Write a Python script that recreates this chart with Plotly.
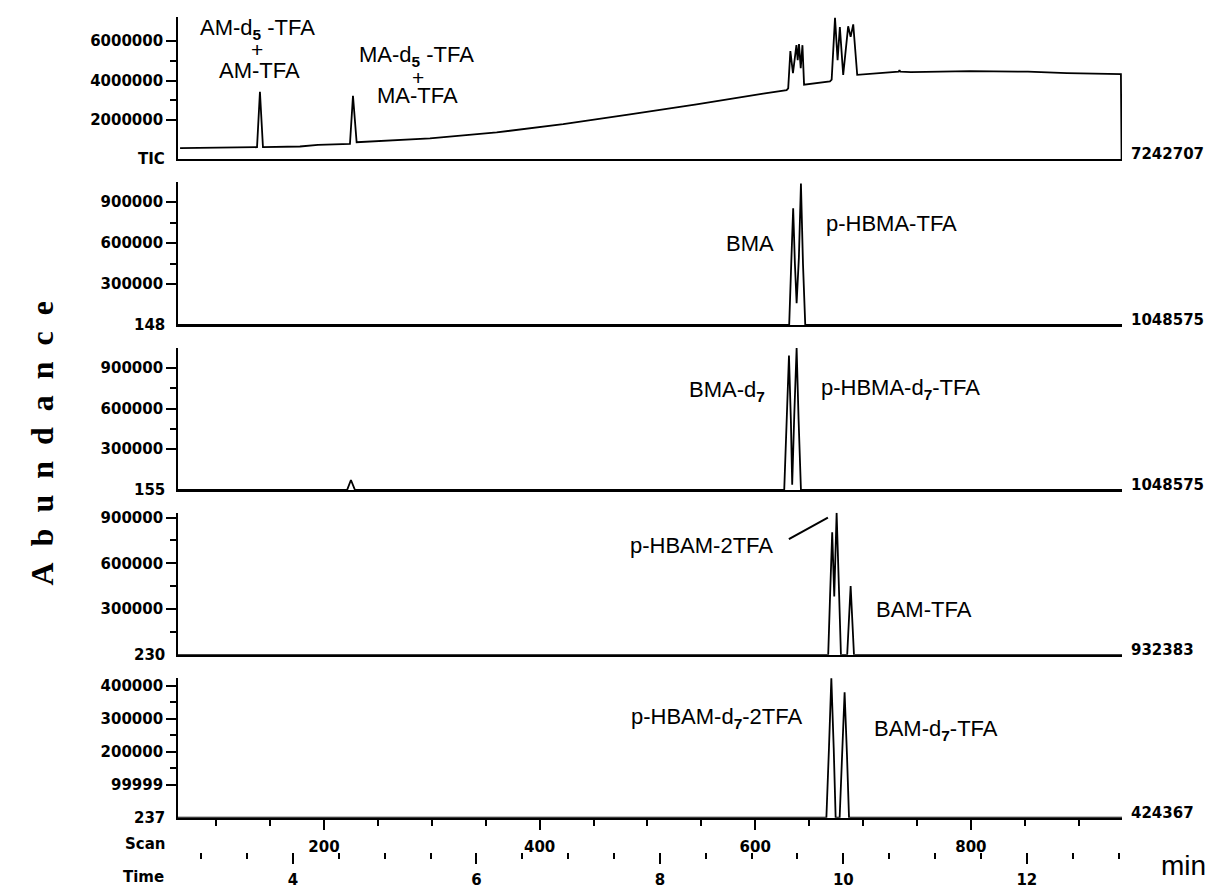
import plotly.graph_objects as go

# ---------------- data (scan number, abundance) ----------------
tic_scan = [66.5, 137.9, 140.6, 143.4, 177.7, 194.4, 224.1, 226.9, 230.3, 298.3, 360.2, 421.9,
            483.8, 545.6, 607.4, 629.1, 630.6, 632.6, 635.0, 638.2, 639.4, 640.6, 642.2, 643.8,
            645.3, 669.3, 670.9, 674.0, 676.4, 678.5, 681.6, 686.2, 688.5, 690.9, 694.6, 706.4,
            724.9, 733.0, 733.8, 734.6, 744.4, 799.1, 852.9, 889.1, 939.2, 939.8]
tic_abund = [553000, 604000, 3420000, 604000, 640000, 719000, 770000, 3220000, 855000, 1056000,
             1358000, 1776000, 2278000, 2781000, 3335000, 3506000, 3600000, 5500000, 4380000,
             5800000, 5040000, 5850000, 4630000, 5800000, 3790000, 3960000, 4050000, 7190000,
             5040000, 6720000, 4290000, 6760000, 6220000, 6860000, 4290000, 4340000, 4410000,
             4450000, 4530000, 4450000, 4430000, 4480000, 4450000, 4380000, 4330000, 0]

ion148_scan = [64.6, 631.5, 633.4, 635.2, 636.8, 638.4, 640.5, 642.4, 644.3, 646.4, 940.2]
ion148_abund = [148, 148, 448000, 855000, 448000, 159000, 494000, 1036000, 448000, 148, 148]

ion155_scan = [64.6, 221.5, 225.0, 228.7, 626.9, 629.1, 631.3, 633.1, 634.3, 636.2, 638.4, 640.2,
               642.4, 940.2]
ion155_abund = [155, 155, 73000, 155, 155, 502000, 990000, 502000, 39000, 548000, 1046000,
                524000, 155, 155]

ion230_scan = [64.6, 667.7, 669.5, 671.4, 673.3, 675.5, 677.6, 679.5, 685.3, 686.9, 688.5, 690.0,
               691.6, 940.2]
ion230_abund = [230, 230, 403000, 803000, 382000, 932000, 447000, 230, 230, 233000, 451000,
                233000, 230, 230]

ion237_scan = [64.6, 666.0, 668.4, 670.6, 672.8, 674.6, 678.3, 680.8, 682.9, 685.1, 687.0, 940.2]
ion237_abund = [237, 237, 211000, 422000, 211000, 237, 237, 191000, 380000, 191000, 237, 237]

# full-scale values (right-hand labels) and baseline labels
full_scale = [7242707, 1048575, 1048575, 932383, 424367]
baseline_labels = ["TIC", "148", "155", "230", "237"]

# y tick values / labels
y_major = [[2000000, 4000000, 6000000],
           [300000, 600000, 900000],
           [300000, 600000, 900000],
           [300000, 600000, 900000],
           [99999, 200000, 300000, 400000]]
y_minor = [[3000000, 5000000],
           [450000, 750000],
           [450000, 750000],
           [150000, 450000, 750000],
           [150000, 250000, 350000]]

# x axis (scan / time)
scan_range = [64.6, 940.2]
scan_major = [200, 400, 600, 800]
scan_minor = [100, 150, 250, 300, 350, 450, 500, 550, 650, 700, 750, 850, 900]
SCANS_PER_MIN = 85.09
SCAN_AT_4MIN = 171.2
time_major = [4, 6, 8, 10, 12]
time_minor = [3.0, 3.5, 4.5, 5.0, 5.5, 6.5, 7.0, 7.5, 8.5, 9.0, 9.5, 10.5, 11.0, 11.5, 12.5, 13.0]

# peak labels: (panel, scan, abundance, text, font size)
peak_labels = [
    (1, 137.9, 6640000, "AM-d<sub><b>5</b></sub> -TFA", 22),
    (1, 137.9, 5560000, "+", 21),
    (1, 140.6, 4530000, "AM-TFA", 22),
    (1, 286.2, 5230000, "MA-d<sub><b>5</b></sub> -TFA", 22),
    (1, 287.2, 4150000, "+", 21),
    (1, 287.2, 3220000, "MA-TFA", 22),
    (2, 595.1, 600000, "BMA", 22),
    (2, 726.8, 745000, "p-HBMA-TFA", 22),
    (3, 573.7, 728000, "BMA-d<sub><b>7</b></sub>", 22),
    (3, 735.1, 743000, "p-HBMA-d<sub><b>7</b></sub>-TFA", 22),
    (4, 550.6, 719000, "p-HBAM-2TFA", 22),
    (4, 756.4, 298000, "BAM-TFA", 22),
    (5, 564.5, 302000, "p-HBAM-d<sub><b>7</b></sub>-2TFA", 22),
    (5, 767.6, 266000, "BAM-d<sub><b>7</b></sub>-TFA", 22),
]
pointer_scan = [631.2, 667.4]
pointer_abund = [758000, 900000]

# ---------------- layout geometry ----------------
W, H = 1210, 889
def py(p):
    return 1 - p / H

def ax(letter, i):
    return letter if i == 1 else f"{letter}{i}"

X_DOM = [178 / W, 1122 / W]
Y_DOMS = [[py(157), py(13)], [py(325), py(180)], [py(492), py(348)],
          [py(659), py(515)], [py(824), py(682)]]

BOLD = dict(family="DejaVu Sans", size=15, color="black", weight="bold")
LABEL_FAMILY = "Liberation Sans, Arial, sans-serif"

series = [(tic_scan, tic_abund), (ion148_scan, ion148_abund), (ion155_scan, ion155_abund),
          (ion230_scan, ion230_abund), (ion237_scan, ion237_abund)]

fig = go.Figure()
layout = dict(width=W, height=H, margin=dict(l=0, r=0, t=0, b=0),
              paper_bgcolor="white", plot_bgcolor="white", showlegend=False)
annotations = []

for i, (xs, ys) in enumerate(series, start=1):
    xn, yn = ax("x", i), ax("y", i)
    fig.add_trace(go.Scatter(x=xs, y=ys, mode="lines", xaxis=xn, yaxis=yn,
                             line=dict(color="black", width=1.8), hoverinfo="skip"))
    bottom = (i == 5)
    xa = dict(domain=X_DOM, anchor=yn, range=scan_range, showline=True,
              linecolor="black", linewidth=1.6, showgrid=False, zeroline=False,
              showticklabels=bottom, ticks="outside" if bottom else "")
    if bottom:
        xa.update(tickmode="array", tickvals=scan_major, ticktext=[str(v) for v in scan_major],
                  ticklen=10, tickwidth=1.6, tickcolor="black", tickfont=BOLD,
                  ticklabelstandoff=4,
                  minor=dict(tickmode="array", tickvals=scan_minor, ticks="outside",
                             ticklen=6, tickwidth=1.6, tickcolor="black"))
    layout[ax("xaxis", i)] = xa
    layout[ax("yaxis", i)] = dict(
        domain=Y_DOMS[i - 1], anchor=xn, range=[0, full_scale[i - 1]],
        showline=True, linecolor="black", linewidth=1.6, showgrid=False, zeroline=False,
        ticks="outside", ticklen=10, tickwidth=1.6, tickcolor="black",
        tickmode="array", tickvals=y_major[i - 1], ticktext=[str(v) for v in y_major[i - 1]],
        tickfont=BOLD,
        minor=dict(tickmode="array", tickvals=y_minor[i - 1], ticks="outside", ticklen=6,
                   tickwidth=1.6, tickcolor="black"))
    # baseline label (left) and full-scale label (right)
    annotations.append(dict(xref=f"{xn} domain", yref=yn, x=0, y=0, xshift=-11,
                            xanchor="right", yanchor="middle", text=baseline_labels[i - 1],
                            showarrow=False, font=BOLD))
    annotations.append(dict(xref=f"{xn} domain", yref=yn, x=1, y=0, xshift=7, yshift=5,
                            xanchor="left", yanchor="middle", text=str(full_scale[i - 1]),
                            showarrow=False, font=BOLD))

# time axis below the scan axis
time_range = [4 + (scan_range[0] - SCAN_AT_4MIN) / SCANS_PER_MIN,
              4 + (scan_range[1] - SCAN_AT_4MIN) / SCANS_PER_MIN]
fig.add_trace(go.Scatter(x=time_range, y=[0, 0], mode="lines", xaxis="x6", yaxis="y5",
                         line=dict(width=0, color="rgba(0,0,0,0)"), hoverinfo="skip"))
layout["xaxis6"] = dict(overlaying="x5", anchor="free", position=py(859), side="bottom",
                        range=time_range, showline=False, showgrid=False, zeroline=False,
                        ticks="outside", ticklen=11, tickwidth=1.6, tickcolor="black",
                        tickmode="array", tickvals=time_major,
                        ticktext=[str(v) for v in time_major], tickfont=BOLD,
                        ticklabelstandoff=3,
                        minor=dict(tickmode="array", tickvals=time_minor, ticks="outside",
                                   ticklen=6, tickwidth=1.6, tickcolor="black"))

# peak labels
for panel, sx, sy, txt, fs in peak_labels:
    annotations.append(dict(xref=ax("x", panel), yref=ax("y", panel), x=sx, y=sy, text=txt,
                            showarrow=False, xanchor="center", yanchor="middle",
                            font=dict(family=LABEL_FAMILY, size=fs, color="black")))

# axis captions
annotations += [
    dict(xref="paper", yref="paper", x=168 / W, y=py(851), text="Scan", showarrow=False,
         xanchor="right", yanchor="middle", font=BOLD),
    dict(xref="paper", yref="paper", x=166 / W, y=py(884), text="Time", showarrow=False,
         xanchor="right", yanchor="middle", font=BOLD),
    dict(xref="paper", yref="paper", x=1183 / W, y=py(872), text="min", showarrow=False,
         xanchor="center", yanchor="middle",
         font=dict(family=LABEL_FAMILY, size=28, color="black")),
    dict(xref="paper", yref="paper", x=42 / W, y=py(445),
         text="A\u00a0 b\u00a0 u\u00a0 n\u00a0 d\u00a0 a\u00a0 n\u00a0 c\u00a0 e",
         showarrow=False, textangle=-90, xanchor="center", yanchor="middle",
         font=dict(family="Liberation Serif, Times New Roman, serif", size=32,
                   color="black", weight="bold")),
]

layout["annotations"] = annotations
layout["shapes"] = [dict(type="line", xref="x4", yref="y4",
                         x0=pointer_scan[0], y0=pointer_abund[0],
                         x1=pointer_scan[1], y1=pointer_abund[1],
                         line=dict(color="black", width=2))]
fig.update_layout(**layout)
fig.write_html("out.html", config={"displayModeBar": False},
               post_script="document.body.style.margin='0';document.body.style.overflow='hidden';")
